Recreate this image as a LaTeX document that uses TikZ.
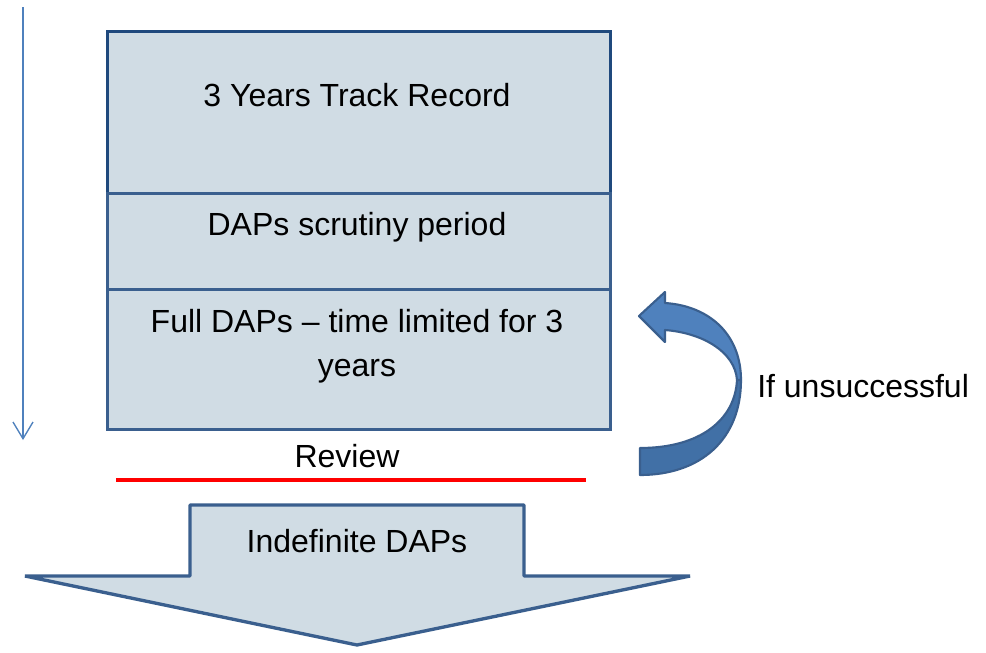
\documentclass[tikz,border=0pt]{standalone}
\usepackage{fontspec}
\setmainfont{Liberation Sans}
\usetikzlibrary{arrows.meta}
\definecolor{boxfill}{HTML}{D0DCE4}
\definecolor{darkb}{HTML}{1F497D}
\definecolor{midb}{HTML}{3A5F8E}
\definecolor{lightb}{HTML}{4F81BD}
\definecolor{lowb}{HTML}{4170A6}
\begin{document}
\begin{tikzpicture}[x=0.75pt,y=-0.75pt,
  box/.style={draw=midb, fill=boxfill, line width=2.5pt, inner sep=0pt, minimum width=377.25pt, anchor=north west},
  txt/.style={font=\fontsize{24}{31.5}\selectfont, inner sep=0pt, align=center},
  curvedarrow/.style={draw=midb, line width=1.6pt, line join=round}]
\useasboundingbox (0,0) rectangle (986,653);
% time arrow
\coordinate (ta) at (23,7);
\coordinate (tb) at (23,440);
\draw[lightb, line width=1pt, -{Straight Barb[length=12.5pt,width=15pt,line width=1pt]}] (ta) -- (tb);
% boxes
\node[box, draw=darkb, minimum height=121.5pt] (b1) at (106,30) {};
\node[box, minimum height=72pt] (b2) at (106,192) {};
\node[box, minimum height=105pt] (b3) at (106,288) {};
\node[txt] (t1) at (357,95) {3 Years Track Record};
\node[txt] (t2) at (357,227) {DAPs scrutiny period};
\node[txt, font=\fontsize{24}{33}\selectfont, anchor=north] (t3) at (357,309) {Full DAPs -- time limited for 3\\years};
% review
\node[txt] (rev) at (347,456) {Review};
\coordinate (ra) at (116,480);
\coordinate (rb) at (586,480);
\draw[red, line width=3pt] (ra) -- (rb);
% big down arrow
\draw[draw=midb, fill=boxfill, line width=2.5pt, line join=bevel]
  (190,505) -- (524,505) -- (524,576) -- (690,576) -- (357,645) -- (25,576) -- (190,576) -- cycle;
\node[txt] (ind) at (357,541) {Indefinite DAPs};
% curved arrow
\coordinate (om) at (741,380);
\coordinate (im) at (737,380);
\fill[lowb] (om) .. controls (741,440) and (700,475) .. (640,475) -- (640,448)
  .. controls (700,448) and (735,420) .. (im) -- cycle;
\draw[curvedarrow] (om) .. controls (741,440) and (700,475) .. (640,475) -- (640,448)
  .. controls (700,448) and (735,420) .. (im);
\draw[curvedarrow, fill=lightb] (om) .. controls (741,335) and (710,306) .. (665,303) -- (665,292) -- (639,316) -- (665,342) -- (665,330)
  .. controls (703,333) and (735,352) .. (im) -- cycle;
\node[txt, anchor=west] (unsucc) at (757,386) {If unsuccessful};
\end{tikzpicture}
\end{document}
